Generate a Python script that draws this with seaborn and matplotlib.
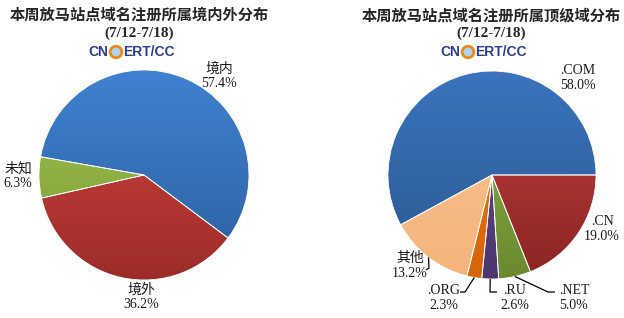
import numpy as np
import matplotlib
matplotlib.use("Agg")
import matplotlib.pyplot as plt
import seaborn as sns
from matplotlib.colors import LinearSegmentedColormap
from matplotlib.patches import Circle

sns.set_theme(style="white")
plt.rcParams['font.family'] = ['Liberation Serif', 'Noto Sans CJK SC', 'DejaVu Sans']

# ---- data ----
left_title = "本周放马站点域名注册所属境内外分布"
right_title = "本周放马站点域名注册所属顶级域分布"
date_label = "(7/12-7/18)"
left_labels = ["境内", "境外", "未知"]
left_values = [57.4, 36.2, 6.3]
right_labels = [".COM", ".CN", ".NET", ".RU", ".ORG", "其他"]
right_values = [58.0, 19.0, 5.0, 2.6, 2.3, 13.2]

# ---- styles ----
left_grad = [("#3f82d0", "#2c5f9f"), ("#d4443f", "#9c2c29"), ("#a3c753", "#779733")]
right_grad = [("#3a74bd", "#2b5890"), ("#c4423e", "#8a2424"), ("#8fb34a", "#6a8a30"),
              ("#654d90", "#4d366e"), ("#ee7612", "#d8650a"), ("#fac391", "#f5b47c")]

W, H = 624, 318
fig = plt.figure(figsize=(W / 100, H / 100), dpi=100)
fig.patch.set_facecolor("white")


def make_ax(cx, cy, R, x0, x1):
    ax = fig.add_axes([x0 / W, 0, (x1 - x0) / W, 1])
    return ax, (cx, cy, R, x0, x1)


def setup_limits(ax, geo):
    cx, cy, R, x0, x1 = geo
    ax.set_xlim((x0 - cx) / R, (x1 - cx) / R)
    ax.set_ylim((cy - H) / R, cy / R)
    ax.set_aspect("auto")
    ax.axis("off")


def p2d(geo, px, py):
    cx, cy, R, _, _ = geo
    return (px - cx) / R, (cy - py) / R


def draw_pie(ax, values, grads, startangle):
    wedges, _ = ax.pie(values, startangle=startangle, counterclock=False,
                       colors=[g[0] for g in grads],
                       wedgeprops=dict(linewidth=0.6, edgecolor="white"))
    grad = np.linspace(0, 1, 256).reshape(-1, 1)
    for w, (top, bot) in zip(wedges, grads):
        cmap = LinearSegmentedColormap.from_list("g", [top, bot])
        im = ax.imshow(grad, cmap=cmap, extent=[-1, 1, -1, 1], origin="upper",
                       aspect="auto", zorder=w.get_zorder() - 0.1)
        im.set_clip_path(w)
        w.set_facecolor("none")
    return wedges


def header(cx, title):
    fig.text(cx / W, 1 - 15 / H, title, ha="center", va="center",
             fontsize=11, fontweight="bold", family=["Noto Sans CJK SC"])
    fig.text(cx / W, 1 - 33 / H, date_label, ha="center", va="center",
             fontsize=11, fontweight="bold", family=["Liberation Serif"])
    # logo
    lx = cx - 23
    ly = 52
    fig.text((lx - 7.5) / W, 1 - ly / H, "CN", ha="right", va="center", fontsize=10,
             fontweight="bold", color="#2b3d8c", family=["Liberation Sans"])
    fig.patches.append(Circle((lx / 100, (H - ly) / 100), 0.058,
                              transform=fig.dpi_scale_trans,
                              facecolor="#a8d8ef", edgecolor="#ee8a1a", linewidth=2.0))
    fig.text((lx + 7.5) / W, 1 - ly / H, "ERT/CC", ha="left", va="center", fontsize=10,
             fontweight="bold", color="#2b3d8c", family=["Liberation Sans"])


# ---- left pie ----
axL, geoL = make_ax(144, 175, 105, 0, 312)
draw_pie(axL, left_values, left_grad, 170)
setup_limits(axL, geoL)
left_pos = [(219, 76), (141, 297), (18, 176)]
for lab, v, (px, py) in zip(left_labels, left_values, left_pos):
    x, y = p2d(geoL, px, py)
    axL.text(x, y, f"{lab}\n{v:.1f}%", ha="center", va="center", fontsize=10,
             linespacing=1.15, color="#1a1a1a")

# ---- right pie ----
axR, geoR = make_ax(492, 175, 104, 312, 624)
wR = draw_pie(axR, right_values, right_grad, 208.6)
setup_limits(axR, geoR)
right_pos = [(578, 78), (602, 229), (574, 298), (515, 298), (444, 298), (410, 266)]
for lab, v, (px, py) in zip(right_labels, right_values, right_pos):
    x, y = p2d(geoR, px, py)
    axR.text(x, y, f"{lab}\n{v:.1f}%", ha="center", va="center", fontsize=10,
             linespacing=1.15, color="#1a1a1a")

# leader lines (start on wedge edge at its mid-angle)
leaders = {2: [(548, 292), (555, 292)],
           3: [(490, 292), (497, 292)],
           4: [(465, 292), (460, 292)],
           5: [(429, 268), (426, 270)]}
for i, pts in leaders.items():
    w = wR[i]
    ang = np.deg2rad((w.theta1 + w.theta2) / 2)
    xs = [np.cos(ang)] + [p2d(geoR, *p)[0] for p in pts]
    ys = [np.sin(ang)] + [p2d(geoR, *p)[1] for p in pts]
    axR.plot(xs, ys, color="black", linewidth=0.9, solid_capstyle="butt", zorder=5)

header(139, left_title)
header(491, right_title)

fig.savefig("out.png", dpi=100, facecolor="white")
